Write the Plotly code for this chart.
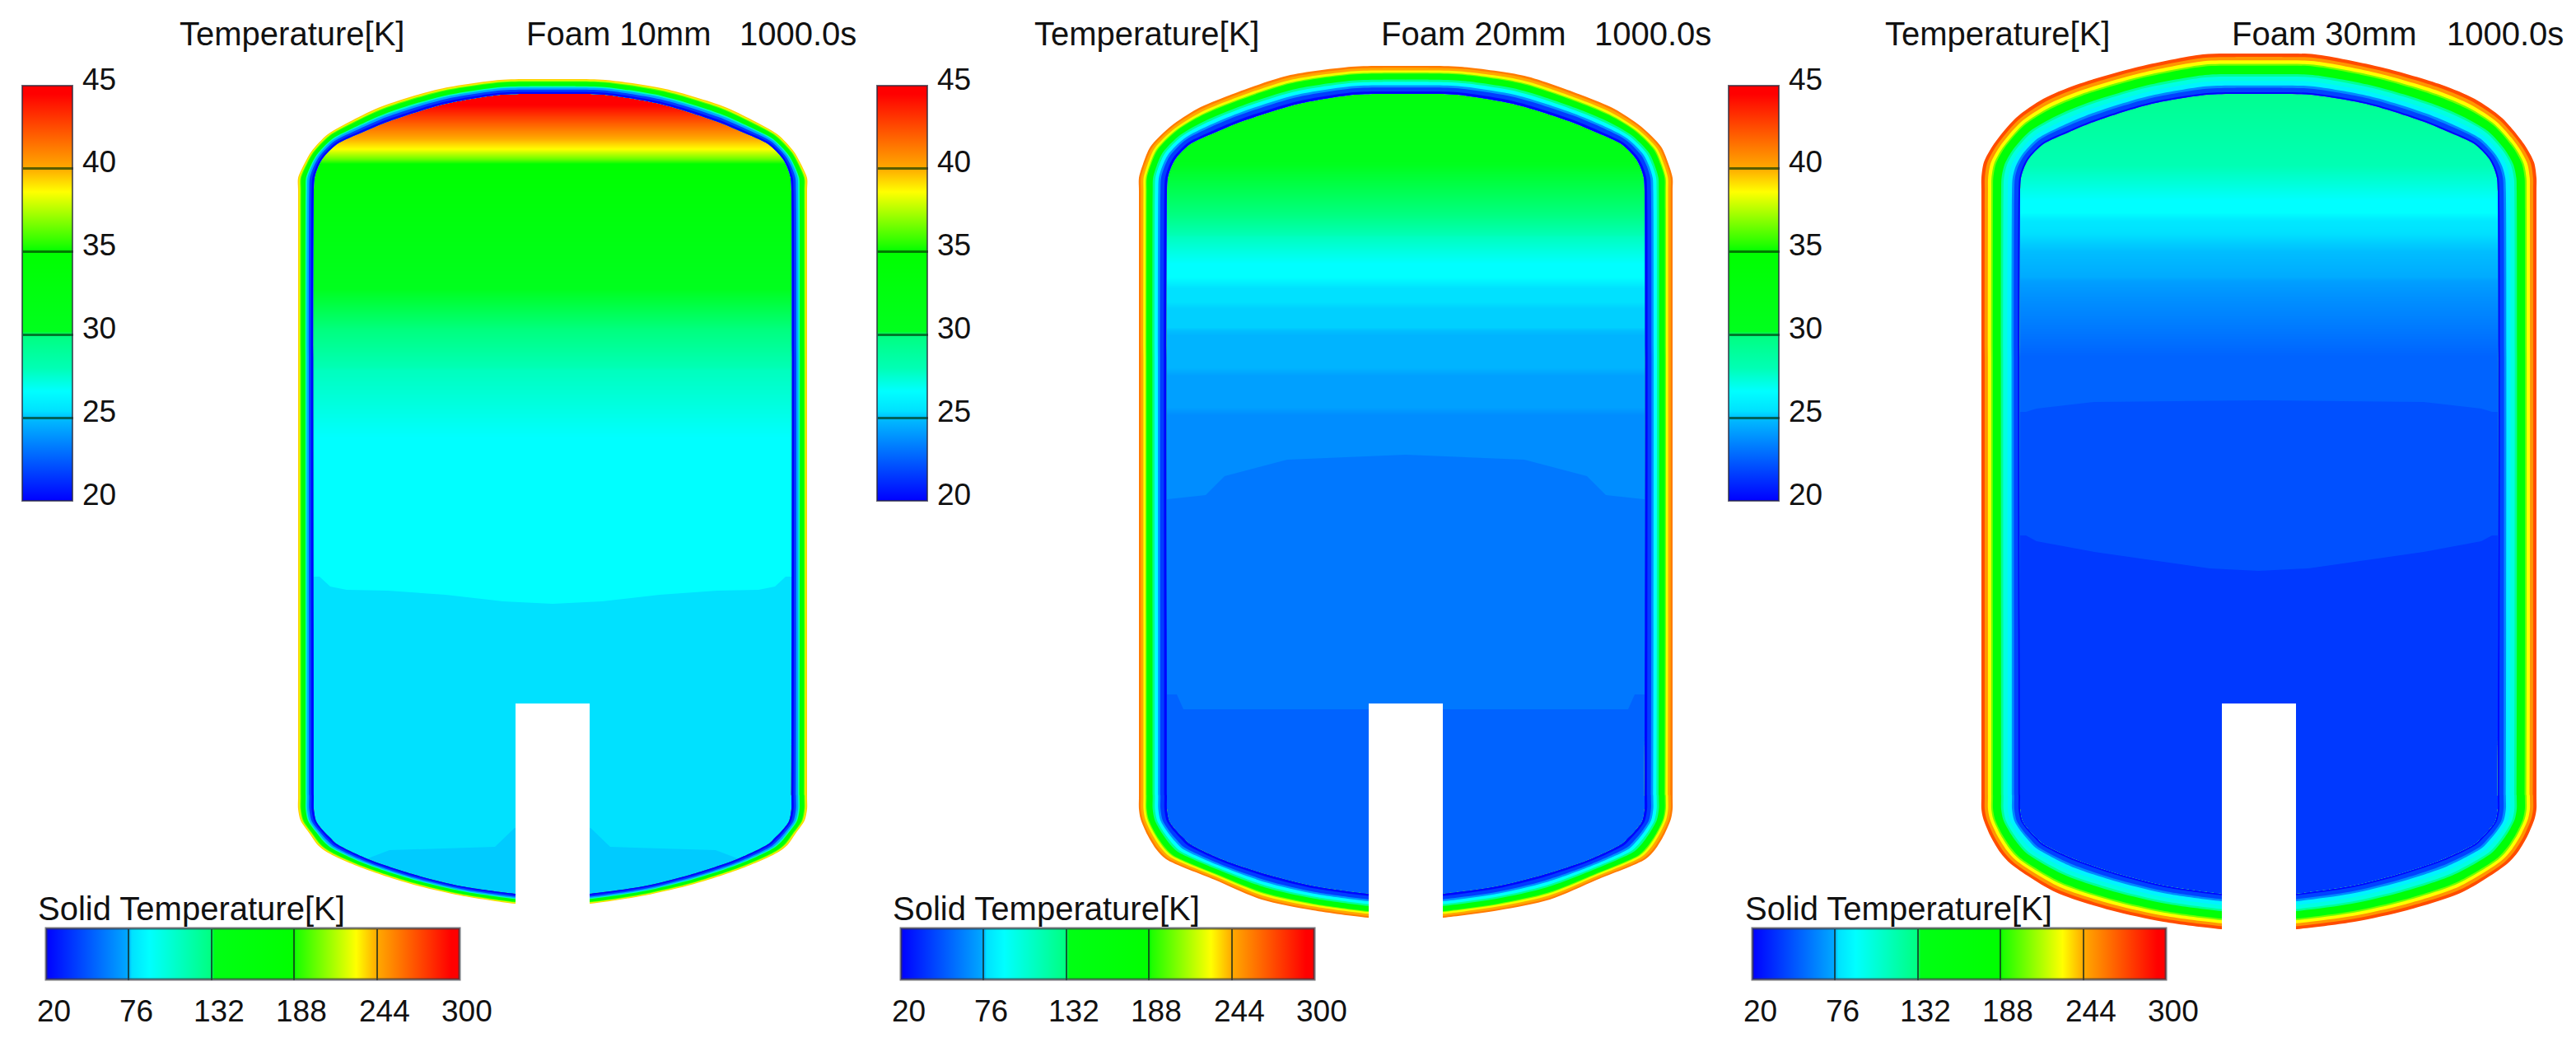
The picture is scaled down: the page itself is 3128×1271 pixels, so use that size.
import plotly.graph_objects as go
from plotly.colors import sample_colorscale
from plotly.subplots import make_subplots

FONT = "Liberation Sans"
W, H = 3128, 1271

panel_names = ["Foam 10mm", "Foam 20mm", "Foam 30mm"]
time_label = "1000.0s"
liquid_title = "Temperature[K]"
solid_title = "Solid Temperature[K]"
liquid_ticks = [20, 25, 30, 35, 40, 45]
solid_ticks = [20, 76, 132, 188, 244, 300]

# tank centre on the page, px
centers = [671, 1707, 2743]
# legends and titles per panel, px
bar_left = [27, 1065, 2099]
hbar_left = [56, 1094, 2128]
temp_title_left = [216, 1254, 2287]
foam_title_left = [637, 1675, 2708]
time_title_left = [896, 1934, 2969]
hbar_title_left = [44, 1082, 2117]

# half profile of the inner wall, top to bottom
inner_half = [0, 29, 63, 130, 198, 232, 262, 279, 285, 289, 290, 290, 290, 287, 278, 270, 263, 224, 167, 110, 46, 0]
inner_row = [114, 114, 115, 126, 147, 161, 175, 192, 203, 216, 232, 966, 982, 997, 1009, 1017, 1024, 1043, 1062, 1076, 1085, 1090]

# outer foam surface for each thickness, same points as the inner wall
outer1_half = [0, 29, 64, 137, 207, 243, 273, 293, 301, 309, 309, 309, 309, 306, 295, 285, 273, 233, 172, 112, 46, 0]
outer1_row = [96, 96, 97, 108, 129, 146, 163, 184, 198, 216, 232, 966, 982, 996, 1012, 1026, 1035, 1053, 1073, 1087, 1097, 1100]
outer2_half = [0, 29, 66, 144, 215, 253, 285, 310, 319, 324, 324, 324, 324, 322, 314, 303, 291, 232, 175, 113, 46, 0]
outer2_row = [80, 80, 81, 92, 116, 132, 153, 178, 199, 216, 232, 966, 982, 994, 1013, 1031, 1043, 1068, 1092, 1105, 1114, 1117]
outer3_half = [0, 30, 68, 150, 222, 262, 295, 322, 334, 337, 337, 337, 337, 335, 326, 314, 301, 247, 180, 116, 46, 0]
outer3_row = [65, 65, 66, 82, 103, 120, 143, 175, 197, 216, 232, 966, 982, 993, 1015, 1035, 1049, 1083, 1105, 1119, 1128, 1131]

# foam bands, outer edge of each band as a share of the thickness, and its solid temperature
foam1_share = [1.0, 0.93, 0.86, 0.80, 0.52, 0.43, 0.29, 0.14]
foam1_temp = [238, 225, 200, 170, 110, 75, 40, 22]
foam2_share = [1.0, 0.93, 0.84, 0.76, 0.72, 0.51, 0.43, 0.31, 0.23, 0.09]
foam2_temp = [258, 245, 228, 205, 170, 125, 90, 68, 40, 22]
foam3_share = [1.0, 0.915, 0.83, 0.745, 0.70, 0.49, 0.43, 0.32, 0.21, 0.15, 0.04]
foam3_temp = [272, 250, 230, 205, 170, 125, 100, 85, 65, 42, 22]

# gas temperature down the tank centre line
gas1_row = [105, 122, 140, 163, 180, 192, 198, 294, 350, 400, 449, 530, 1095]
gas1_temp = [45, 45, 43, 40.5, 38.6, 36.5, 35, 32, 30.2, 30, 27.8, 26.6, 26.6]
gas2_row = [105, 193, 200, 260, 287, 320, 336, 350, 366, 375, 397, 407, 446, 456, 494, 504, 1095]
gas2_temp = [33, 31, 30.2, 30, 27.8, 26.6, 26.6, 25.4, 25.4, 25.2, 25.2, 24.74, 24.74, 24.2, 24.2, 23.7, 23.7]
gas3_row = [105, 200, 243, 257, 267, 293, 320, 336, 340, 361, 392, 433, 1095]
gas3_temp = [29.5, 28, 26.6, 26.6, 25.7, 25.2, 24.74, 24.5, 24.2, 23.8, 23.3, 22.6, 22.6]

# colder layers in the lower tank: half width, row of their top edge, temperature
layer1a_half = [0, 60, 130, 200, 250, 270, 283, 296]
layer1a_row = [733, 730, 722, 717, 716, 712, 700, 700]
layer1a_temp = 25.4
layer1b_half = [46, 70, 198, 240, 296]
layer1b_row = [1005, 1028, 1032, 1048, 1048]
layer1b_temp = 25.15
layer2a_half = [0, 144, 220, 243, 289, 296]
layer2a_row = [552, 558, 578, 601, 606, 606]
layer2a_temp = 23.16
layer2b_half = [0, 270, 278, 296]
layer2b_row = [861, 861, 843, 843]
layer2b_temp = 22.6
layer3a_half = [0, 200, 270, 283, 296]
layer3a_row = [486, 488, 496, 500, 500]
layer3a_temp = 22.1
layer3b_half = [0, 60, 200, 270, 283, 296]
layer3b_row = [693, 690, 670, 657, 650, 650]
layer3b_temp = 21.5

notch_half = 45
notch_top = 854
notch_bottom = 1140

liquid_scale = [
    [0.0, "rgb(0,0,255)"],
    [0.2, "rgb(0,190,255)"],
    [0.216, "rgb(0,225,255)"],
    [0.264, "rgb(0,255,255)"],
    [0.32, "rgb(0,255,180)"],
    [0.4, "rgb(0,255,128)"],
    [0.408, "rgb(0,255,30)"],
    [0.6, "rgb(0,255,0)"],
    [0.62, "rgb(40,255,0)"],
    [0.744, "rgb(255,255,0)"],
    [0.8, "rgb(255,170,0)"],
    [0.98, "rgb(255,0,0)"],
    [1.0, "rgb(255,0,0)"],
]
solid_scale = [
    [0.0, "rgb(0,0,255)"],
    [0.2, "rgb(0,170,255)"],
    [0.207, "rgb(0,225,255)"],
    [0.25, "rgb(0,255,255)"],
    [0.4, "rgb(0,255,128)"],
    [0.407, "rgb(0,255,20)"],
    [0.6, "rgb(0,255,0)"],
    [0.607, "rgb(30,255,0)"],
    [0.75, "rgb(255,255,0)"],
    [0.8, "rgb(255,170,0)"],
    [0.98, "rgb(255,0,0)"],
    [1.0, "rgb(255,0,0)"],
]


def liquid_color(temp):
    return sample_colorscale(liquid_scale, [(temp - 20) / 25])[0]


def solid_color(temp):
    return sample_colorscale(solid_scale, [(temp - 20) / 280])[0]


def loop(half, row):
    xs = list(half) + [-h for h in reversed(half)]
    ys = list(row) + list(reversed(row))
    return xs + xs[:1], ys + ys[:1]


def ring(outer, inner):
    # outer loop plus the inner one wound the other way, so it stays a hole
    return outer[0] + [None] + inner[0][::-1], outer[1] + [None] + inner[1][::-1]


def polygon(xs, ys, color, shape="linear"):
    return go.Scatter(x=xs, y=ys, mode="lines", line=dict(width=0, shape=shape, smoothing=0.8), fill="toself",
                      fillcolor=color, hoverinfo="skip", showlegend=False)


panels = [
    dict(outer=(outer1_half, outer1_row), share=foam1_share, temp=foam1_temp, row=gas1_row, gas=gas1_temp,
         layers=[(layer1a_half, layer1a_row, layer1a_temp), (layer1b_half, layer1b_row, layer1b_temp)]),
    dict(outer=(outer2_half, outer2_row), share=foam2_share, temp=foam2_temp, row=gas2_row, gas=gas2_temp,
         layers=[(layer2a_half, layer2a_row, layer2a_temp), (layer2b_half, layer2b_row, layer2b_temp)]),
    dict(outer=(outer3_half, outer3_row), share=foam3_share, temp=foam3_temp, row=gas3_row, gas=gas3_temp,
         layers=[(layer3a_half, layer3a_row, layer3a_temp), (layer3b_half, layer3b_row, layer3b_temp)]),
]

fig = make_subplots(rows=1, cols=3)
annotations = []


def add_text(text, x_px, y_px, size, xanchor="left"):
    annotations.append(dict(text=text, x=x_px / W, y=1 - y_px / H, xref="paper", yref="paper",
                            xanchor=xanchor, yanchor="middle", showarrow=False,
                            font=dict(family=FONT, size=size, color="#111111")))


coloraxes = {}
for i, p in enumerate(panels):
    col = i + 1
    liquid_axis = "coloraxis" if i == 0 else f"coloraxis{i + 1}"
    solid_axis = f"coloraxis{i + 4}"
    inner_loop = loop(inner_half, inner_row)

    # gas field, cut to the tank by the white mask below
    fig.add_trace(go.Heatmap(x=[-340, 340], y=p["row"], z=[[t, t] for t in p["gas"]], zsmooth="best",
                             coloraxis=liquid_axis, hoverinfo="skip"), row=1, col=col)
    for half, row_vals, temp in p["layers"]:
        # closed down to the bottom of the tank
        lower_half = list(half) + [half[-1], 0]
        lower_row = list(row_vals) + [1095, 1095]
        xs, ys = loop(lower_half, lower_row)
        fig.add_trace(polygon(xs, ys, liquid_color(temp)), row=1, col=col)

    # white outside the inner wall
    page = ([-350, 350, 350, -350, -350], [0, 0, H, H, 0])
    fig.add_trace(polygon(*ring(page, inner_loop), "white", "spline"), row=1, col=col)

    # foam, outermost band first, every band running in to the inner wall
    for share, temp in zip(p["share"], p["temp"]):
        band_half = [a + share * (b - a) for a, b in zip(inner_half, p["outer"][0])]
        band_row = [a + share * (b - a) for a, b in zip(inner_row, p["outer"][1])]
        fig.add_trace(polygon(*ring(loop(band_half, band_row), inner_loop), solid_color(temp), "spline"),
                      row=1, col=col)

    fig.add_trace(polygon([-notch_half, notch_half, notch_half, -notch_half, -notch_half],
                          [notch_top, notch_top, notch_bottom, notch_bottom, notch_top], "white"), row=1, col=col)

    # carries the horizontal colorbar for the foam
    fig.add_trace(go.Scatter(x=[None] * len(p["temp"]), y=[None] * len(p["temp"]), mode="markers",
                             marker=dict(color=p["temp"], coloraxis=solid_axis),
                             hoverinfo="skip", showlegend=False), row=1, col=col)

    c = centers[i]
    fig.update_xaxes(domain=[(c - 350) / W, (c + 350) / W], range=[-350, 350], visible=False, row=1, col=col)
    fig.update_yaxes(domain=[0, 1], range=[H, 0], visible=False, row=1, col=col)

    coloraxes[liquid_axis] = dict(
        colorscale=liquid_scale, cmin=20, cmax=45,
        colorbar=dict(thicknessmode="pixels", thickness=61, lenmode="pixels", len=504,
                      x=bar_left[i] / W, xanchor="left", y=1 - 104 / H, yanchor="top",
                      xpad=0, ypad=0, tickvals=liquid_ticks, ticks="inside", ticklen=61, tickwidth=3,
                      tickcolor="rgba(0,50,0,0.65)", showticklabels=False,
                      outlinewidth=2, outlinecolor="rgba(40,40,60,0.7)", borderwidth=0))
    coloraxes[solid_axis] = dict(
        colorscale=solid_scale, cmin=20, cmax=300,
        colorbar=dict(orientation="h", thicknessmode="pixels", thickness=62, lenmode="pixels", len=502,
                      x=hbar_left[i] / W, xanchor="left", y=1 - 1127 / H, yanchor="top",
                      xpad=0, ypad=0, tickvals=solid_ticks, ticks="inside", ticklen=62, tickwidth=2,
                      tickcolor="rgba(20,40,30,0.75)", showticklabels=False,
                      outlinewidth=3, outlinecolor="rgba(60,60,70,0.7)", borderwidth=0))

    add_text(liquid_title, temp_title_left[i], 41, 40)
    add_text(panel_names[i], foam_title_left[i], 41, 40)
    add_text(time_label, time_title_left[i], 41, 40)
    add_text(solid_title, hbar_title_left[i], 1103, 40)
    for t in liquid_ticks:
        add_text(str(t), bar_left[i] + 93, 104 + (45 - t) / 25 * 504 - 8, 37, "center")
    for t in solid_ticks:
        add_text(str(t), hbar_left[i] + (t - 20) / 280 * 502 + 9, 1227, 37, "center")

fig.update_layout(width=W, height=H, margin=dict(l=0, r=0, t=0, b=0), paper_bgcolor="white",
                  plot_bgcolor="white", showlegend=False, annotations=annotations, **coloraxes)

fig.write_html("out.html", config={"displayModeBar": False}, post_script="document.body.style.margin='0';")
